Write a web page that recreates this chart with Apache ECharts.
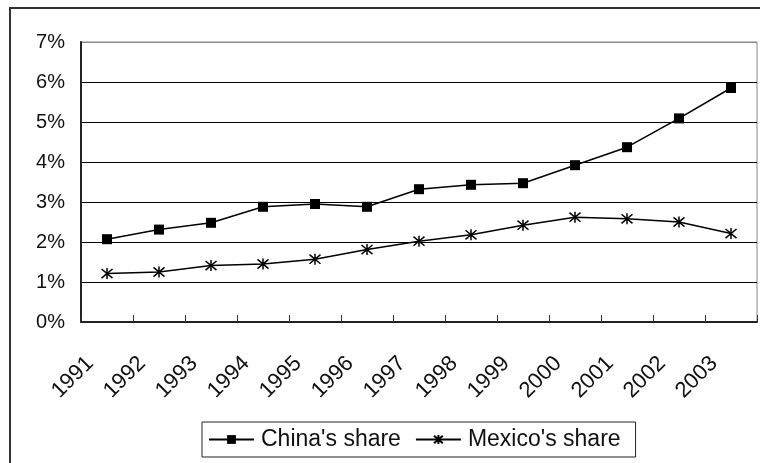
<!DOCTYPE html>
<html>
<head>
<meta charset="utf-8">
<script src="https://cdn.jsdelivr.net/npm/echarts@6/dist/echarts.min.js"></script>
<style>
html,body{margin:0;padding:0;background:#fff;}
#chart{width:760px;height:463px;}
</style>
</head>
<body>
<div id="chart"></div>
<script>
const years = ['1991','1992','1993','1994','1995','1996','1997','1998','1999','2000','2001','2002','2003'];
const chinaShare = [2.07, 2.31, 2.48, 2.88, 2.95, 2.88, 3.32, 3.43, 3.47, 3.92, 4.37, 5.09, 5.85];
const mexicoShare = [1.21, 1.25, 1.41, 1.45, 1.57, 1.81, 2.02, 2.18, 2.42, 2.62, 2.58, 2.50, 2.21];
const seriesNames = ["China's share", "Mexico's share"];

const FONT = "'Liberation Sans', Arial, sans-serif";
const starPath = 'path://M0,0 L10,10 M10,0 L0,10 M5,-1 L5,11';

const chart = echarts.init(document.getElementById('chart'));
chart.setOption({
  animation: false,
  backgroundColor: '#fff',
  textStyle: { fontFamily: FONT, color: '#111' },
  graphic: [{
    type: 'rect',
    shape: { x: 10, y: 8, width: 800, height: 500 },
    style: { fill: 'none', stroke: '#333', lineWidth: 2 },
    z: -1
  }],
  grid: {
    left: 81, right: 3, top: 42, bottom: 141,
    show: true, borderColor: '#888', borderWidth: 1, backgroundColor: 'transparent'
  },
  legend: {
    left: 202, top: 422,
    orient: 'horizontal',
    data: seriesNames,
    itemWidth: 45, itemHeight: 11, itemGap: 14,
    padding: [6, 15, 6, 6],
    borderColor: '#222', borderWidth: 1,
    textStyle: { fontFamily: FONT, fontSize: 23, color: '#111', padding: [0, 0, 0, 2] }
  },
  xAxis: {
    type: 'category',
    data: years,
    boundaryGap: true,
    axisLine: { show: true, lineStyle: { color: '#222', width: 2 } },
    axisTick: { show: true, inside: true, length: 7, alignWithLabel: false, interval: 0, lineStyle: { color: '#333', width: 1 } },
    axisLabel: {
      interval: 0, rotate: 45, margin: 21, fontSize: 22, color: '#111', fontFamily: FONT,
      padding: [0, 24, 0, 0], hideOverlap: false
    },
    splitLine: { show: false }
  },
  yAxis: {
    type: 'value',
    min: 0, max: 7, interval: 1,
    axisLine: { show: true, lineStyle: { color: '#222', width: 2 } },
    axisTick: { show: false },
    axisLabel: { formatter: '{value}%', fontSize: 20, margin: 16, color: '#111', fontFamily: FONT },
    splitLine: { show: true, lineStyle: { color: ['#000','#000','#000','#000','#000','#000','#000','#888'], width: 1 } }
  },
  series: [
    {
      name: seriesNames[0], type: 'line', data: chinaShare,
      symbol: 'rect', symbolSize: 10,
      lineStyle: { color: '#000', width: 1.5 },
      itemStyle: { color: '#000' }
    },
    {
      name: seriesNames[1], type: 'line', data: mexicoShare,
      symbol: starPath, symbolSize: 11,
      lineStyle: { color: '#000', width: 1.5 },
      itemStyle: { color: '#000', borderColor: '#000', borderWidth: 1.5 }
    }
  ]
});
</script>
</body>
</html>
